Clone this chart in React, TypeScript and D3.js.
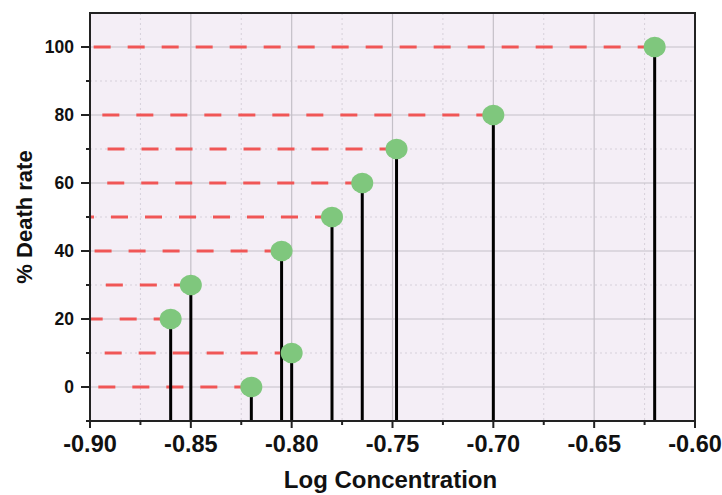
import React from 'react';
import * as d3 from 'd3';

// log concentration (x) and % death rate (y) of each sample
const logConc = [-0.86, -0.85, -0.82, -0.805, -0.8, -0.78, -0.765, -0.748, -0.7, -0.62];
const deathRate = [20, 30, 0, 40, 10, 50, 60, 70, 80, 100];
const xTicks = [-0.9, -0.85, -0.8, -0.75, -0.7, -0.65, -0.6];
const yTicks = [0, 20, 40, 60, 80, 100];

const W = 722;
const H = 495;
const margin = { top: 13, right: 27, bottom: 74, left: 90 };

export default function App() {
  const iw = W - margin.left - margin.right;
  const ih = H - margin.top - margin.bottom;

  const x = d3.scaleLinear().domain([-0.9, -0.6]).range([0, iw]);
  const y = d3.scaleLinear().domain([-10, 110]).range([ih, 0]);

  const xMinor = d3.range(-0.875, -0.6, 0.05);
  const yMinor = [-10, 10, 30, 50, 70, 90];

  const pts = logConc.map((v, i) => ({ x: v, y: deathRate[i] }));

  const font = '"Liberation Sans", Arial, sans-serif';

  return (
    <svg width={W} height={H} style={{ position: 'absolute', left: 0, top: 0 }}>
      <g transform={`translate(${margin.left},${margin.top})`}>
        <rect width={iw} height={ih} fill="#f4eef6" />
        {/* minor grid */}
        {xMinor.map((t) => (
          <line key={'xm' + t} x1={x(t)} x2={x(t)} y1={0} y2={ih} stroke="#d6d0da" strokeDasharray="2,3" />
        ))}
        {yMinor.map((t) => (
          <line key={'ym' + t} x1={0} x2={iw} y1={y(t)} y2={y(t)} stroke="#d6d0da" strokeDasharray="2,3" />
        ))}
        {/* major grid */}
        {xTicks.map((t) => (
          <line key={'xg' + t} x1={x(t)} x2={x(t)} y1={0} y2={ih} stroke="#c4c0c8" strokeWidth={1.2} />
        ))}
        {yTicks.map((t) => (
          <line key={'yg' + t} x1={0} x2={iw} y1={y(t)} y2={y(t)} stroke="#c4c0c8" strokeWidth={1.2} />
        ))}
        {/* dashed guides, drawn from the point to the left axis */}
        {pts.map((d, i) => (
          <line
            key={'dl' + i}
            x1={x(d.x)}
            x2={0}
            y1={y(d.y)}
            y2={y(d.y)}
            stroke="#f05656"
            strokeWidth={3}
            strokeDasharray="17,17"
          />
        ))}
        {/* stems */}
        {pts.map((d, i) => (
          <line key={'st' + i} x1={x(d.x)} x2={x(d.x)} y1={ih} y2={y(d.y)} stroke="#000" strokeWidth={3} />
        ))}
        {pts.map((d, i) => (
          <ellipse key={'pt' + i} cx={x(d.x)} cy={y(d.y)} rx={11} ry={10.3} fill="#7fc77d" />
        ))}
        {/* frame */}
        <rect width={iw} height={ih} fill="none" stroke="#222" strokeWidth={2} />
        {/* x ticks */}
        {xTicks.map((t) => (
          <g key={'xt' + t} transform={`translate(${x(t)},${ih})`}>
            <line y2={7} stroke="#222" strokeWidth={2} />
            <text
              y={31}
              textAnchor="middle"
              fontFamily={font}
              fontWeight="bold"
              fontSize={23.5}
              fill="#111"
            >
              {d3.format('.2f')(t).replace('−', '-')}
            </text>
          </g>
        ))}
        {xMinor.map((t) => (
          <line key={'xmt' + t} x1={x(t)} x2={x(t)} y1={ih} y2={ih + 4} stroke="#222" strokeWidth={2} />
        ))}
        {/* y ticks */}
        {yTicks.map((t) => (
          <g key={'yt' + t} transform={`translate(0,${y(t)})`}>
            <line x2={-9} stroke="#222" strokeWidth={2} />
            <text
              x={-16}
              dy="0.36em"
              textAnchor="end"
              fontFamily={font}
              fontWeight="bold"
              fontSize={17.5}
              fill="#111"
            >
              {t}
            </text>
          </g>
        ))}
        {yMinor.map((t) => (
          <line key={'ymt' + t} x1={0} x2={-4} y1={y(t)} y2={y(t)} stroke="#222" strokeWidth={2} />
        ))}
      </g>
      <text
        x={margin.left + iw / 2 - 2}
        y={488}
        textAnchor="middle"
        fontFamily={font}
        fontWeight="bold"
        fontSize={24}
        fill="#111"
      >
        Log Concentration
      </text>
      <text
        transform={`translate(32,${margin.top + ih / 2}) rotate(-90)`}
        textAnchor="middle"
        fontFamily={font}
        fontWeight="bold"
        fontSize={22}
        fill="#111"
      >
        % Death rate
      </text>
    </svg>
  );
}
